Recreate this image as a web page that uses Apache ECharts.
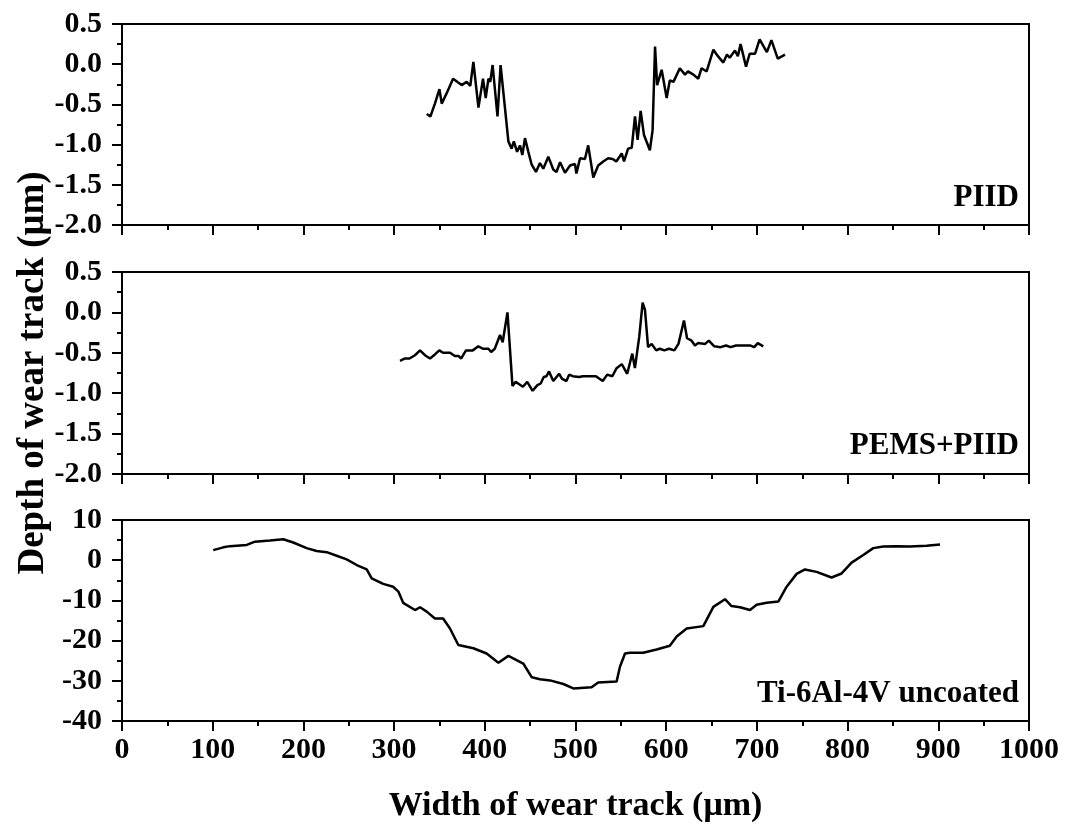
<!DOCTYPE html>
<html>
<head>
<meta charset="utf-8">
<script src="https://cdn.jsdelivr.net/npm/echarts@6/dist/echarts.min.js"></script>
<style>
  html, body { margin: 0; padding: 0; background: #fff; }
  #main { width: 1067px; height: 834px; }
</style>
</head>
<body>
<div id="main"></div>
<script>
// PIID profile (um, um)
var piidX = [336, 340, 345, 350, 352.5, 358, 365, 374.5, 380, 384, 387.4, 393, 398, 401, 404, 406, 408.6, 414, 417.4, 426, 429.6, 432, 435.6, 438.8, 441.4, 444.3, 448, 451.7, 456.4, 460.8, 464.5, 470, 475.5, 479, 483, 488.4, 494, 499.4, 501, 505, 510.4, 514, 519.6, 525, 530.6, 536, 541, 545, 551, 553.5, 558, 562, 565.6, 568.5, 571.8, 575.5, 582, 585, 587.7, 590, 595, 600.5, 604, 608, 615, 620.7, 624, 630, 635.4, 639, 644.6, 652, 657, 663, 667, 670, 675.8, 679, 682, 688, 692, 698, 703, 711, 716, 723, 731];
var piidY = [-0.62, -0.65, -0.49, -0.31, -0.49, -0.36, -0.18, -0.26, -0.22, -0.27, 0.03, -0.54, -0.18, -0.42, -0.18, -0.22, -0.01, -0.65, -0.01, -0.96, -1.05, -0.96, -1.09, -1.01, -1.13, -0.92, -1.09, -1.25, -1.34, -1.23, -1.30, -1.15, -1.31, -1.34, -1.22, -1.35, -1.26, -1.24, -1.36, -1.17, -1.18, -1.01, -1.41, -1.26, -1.21, -1.17, -1.18, -1.21, -1.11, -1.21, -1.05, -1.04, -0.65, -0.94, -0.58, -0.88, -1.07, -0.82, 0.22, -0.26, -0.07, -0.42, -0.20, -0.22, -0.05, -0.13, -0.09, -0.13, -0.18, -0.05, -0.09, 0.18, 0.10, 0.02, 0.12, 0.08, 0.17, 0.10, 0.25, -0.03, 0.13, 0.13, 0.31, 0.15, 0.30, 0.07, 0.12];

// PEMS+PIID profile
var pemsX = [306.5, 312, 317, 323, 328.6, 334, 339.6, 345, 349.8, 354, 361.7, 367, 371, 374, 379.3, 386.7, 392.9, 398, 404, 407, 411, 416.8, 419.7, 425, 430.5, 434, 438, 442, 446.8, 452.7, 458, 461.6, 465, 468, 470.8, 475.5, 482, 485, 490, 493, 497, 504, 508, 522.5, 530, 535, 540.6, 545.3, 551, 557, 562.6, 565.5, 570.3, 574, 576.6, 580, 584, 589, 593, 598, 603, 609, 613.5, 619.6, 623, 628, 631.7, 635, 643, 647, 653, 660, 666, 671, 677, 682, 693, 697, 701, 707];
var pemsY = [-0.60, -0.57, -0.57, -0.53, -0.47, -0.53, -0.57, -0.52, -0.47, -0.50, -0.50, -0.54, -0.54, -0.57, -0.47, -0.47, -0.42, -0.45, -0.45, -0.49, -0.45, -0.28, -0.37, 0.00, -0.91, -0.86, -0.89, -0.92, -0.86, -0.97, -0.90, -0.88, -0.80, -0.79, -0.73, -0.85, -0.76, -0.82, -0.85, -0.77, -0.79, -0.80, -0.79, -0.79, -0.85, -0.77, -0.79, -0.69, -0.64, -0.76, -0.51, -0.69, -0.30, 0.12, 0.03, -0.43, -0.39, -0.47, -0.45, -0.47, -0.45, -0.47, -0.39, -0.10, -0.32, -0.35, -0.41, -0.38, -0.39, -0.35, -0.42, -0.43, -0.41, -0.43, -0.41, -0.41, -0.41, -0.43, -0.38, -0.42];

// Ti-6Al-4V uncoated profile
var tiX = [100.6, 111.7, 119, 137.5, 146.6, 163, 177.8, 188.8, 203.6, 214.6, 225.7, 236.7, 247.7, 258.8, 269.8, 275.3, 288, 299, 304.7, 310, 323, 328.6, 336, 345, 354, 361.6, 370.8, 387.4, 402, 415, 426, 442.4, 451.7, 460.9, 472, 486.6, 497.6, 517.8, 525, 545.3, 549, 554.6, 560, 574.7, 589.4, 604, 611.6, 622.6, 640.9, 652, 664.8, 672, 681.4, 692.4, 699.7, 710.8, 723.6, 732.8, 743.8, 753, 765.8, 782.3, 793.4, 804.4, 817.3, 828.3, 839.3, 854, 868.8, 887, 901.9];
var tiY = [2.5, 3.2, 3.5, 3.8, 4.6, 4.9, 5.2, 4.4, 3.0, 2.3, 2.0, 1.1, 0.2, -1.2, -2.3, -4.5, -5.9, -6.6, -7.8, -10.6, -12.4, -11.7, -12.8, -14.5, -14.5, -17.0, -21.1, -21.9, -23.2, -25.5, -23.8, -25.7, -29.1, -29.6, -29.9, -30.8, -31.9, -31.6, -30.4, -30.2, -26.5, -23.2, -23.0, -23.0, -22.2, -21.3, -19.0, -17.0, -16.4, -11.6, -9.7, -11.4, -11.7, -12.4, -11.1, -10.6, -10.3, -6.6, -3.4, -2.3, -2.9, -4.3, -3.3, -0.6, 1.3, 3.0, 3.4, 3.5, 3.4, 3.6, 3.9];

var xTicks = [0, 100, 200, 300, 400, 500, 600, 700, 800, 900, 1000];
var panelNames = ['PIID', 'PEMS+PIID', 'Ti-6Al-4V uncoated'];

var FONT = "'Liberation Serif', 'Times New Roman', serif";

function zip(xs, ys) {
  return xs.map(function (x, i) { return [x, ys[i]]; });
}

function makeX(idx, showLabel) {
  return {
    type: 'value', gridIndex: idx, min: xTicks[0], max: xTicks[xTicks.length - 1], interval: 100,
    axisLine: { show: true, onZero: false, lineStyle: { color: '#000', width: 2 } },
    axisTick: { show: true, length: 10, lineStyle: { color: '#000', width: 2 } },
    minorTick: { show: true, splitNumber: 2, length: 5, lineStyle: { color: '#000', width: 2 } },
    splitLine: { show: false },
    axisLabel: {
      show: showLabel, color: '#000', fontFamily: FONT, fontWeight: 'bold', fontSize: 30, margin: 14,
      formatter: function (v) { return String(v); }
    },
    name: showLabel ? 'Width of wear track (\u03bcm)' : '',
    nameLocation: 'middle', nameGap: 68,
    nameTextStyle: { color: '#000', fontFamily: FONT, fontWeight: 'bold', fontSize: 34 }
  };
}

function makeY(idx, min, max, interval, digits, name) {
  return {
    type: 'value', gridIndex: idx, min: min, max: max, interval: interval,
    axisLine: { show: true, onZero: false, lineStyle: { color: '#000', width: 2 } },
    axisTick: { show: true, length: 10, lineStyle: { color: '#000', width: 2 } },
    minorTick: { show: true, splitNumber: 2, length: 5, lineStyle: { color: '#000', width: 2 } },
    splitLine: { show: false },
    axisLabel: {
      color: '#000', fontFamily: FONT, fontWeight: 'bold', fontSize: 30, margin: 20,
      formatter: function (v) { return (Math.abs(v) < 1e-9 ? 0 : v).toFixed(digits); }
    },
    name: name || '', nameLocation: 'middle', nameGap: 70, nameMoveOverlap: false,
    nameTextStyle: { color: '#000', fontFamily: FONT, fontWeight: 'bold', fontSize: 37 }
  };
}

function makeSeries(idx, data) {
  return {
    type: 'line', xAxisIndex: idx, yAxisIndex: idx, data: data,
    showSymbol: false, symbol: 'none', smooth: false,
    lineStyle: { color: '#000', width: 2.5 }, animation: false
  };
}

var chart = echarts.init(document.getElementById('main'), null, { renderer: 'canvas' });

var gridBox = { left: 122, right: 38, show: true, borderColor: '#000', borderWidth: 2 };

chart.setOption({
  backgroundColor: '#fff',
  animation: false,
  grid: [
    Object.assign({ top: 24, height: 201 }, gridBox),
    Object.assign({ top: 272, height: 202 }, gridBox),
    Object.assign({ top: 520, height: 201 }, gridBox)
  ],
  xAxis: [makeX(0, false), makeX(1, false), makeX(2, true)],
  yAxis: [
    makeY(0, -2, 0.5, 0.5, 1),
    makeY(1, -2, 0.5, 0.5, 1, 'Depth of wear track (\u03bcm)'),
    makeY(2, -40, 10, 10, 0)
  ],
  series: [
    makeSeries(0, zip(piidX, piidY)),
    makeSeries(1, zip(pemsX, pemsY)),
    makeSeries(2, zip(tiX, tiY))
  ],
  graphic: [
    { type: 'text', right: 48, top: 182, style: { text: panelNames[0], fill: '#000', font: 'bold 31px ' + FONT } },
    { type: 'text', right: 48, top: 430, style: { text: panelNames[1], fill: '#000', font: 'bold 31px ' + FONT } },
    { type: 'text', right: 48, top: 678, style: { text: panelNames[2], fill: '#000', font: 'bold 31px ' + FONT } }
  ]
});
</script>
</body>
</html>
